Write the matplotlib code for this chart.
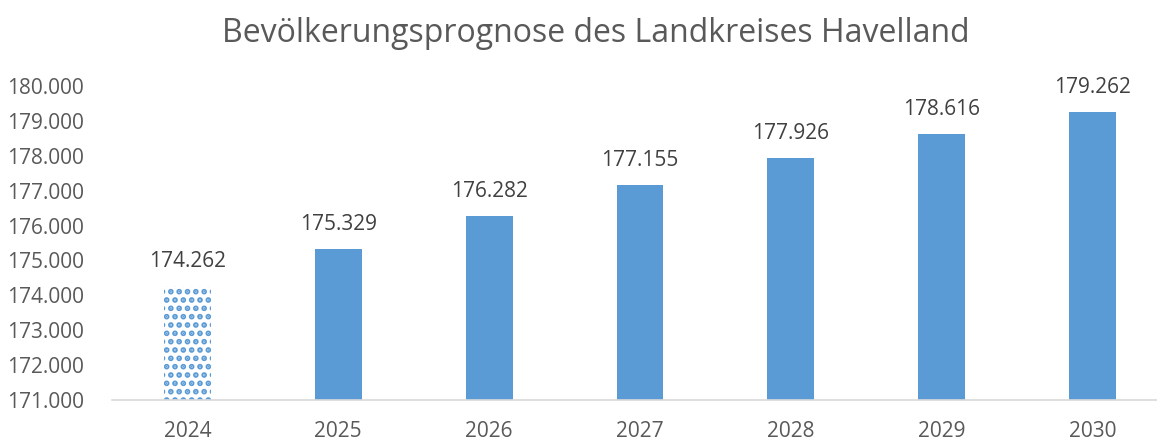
import matplotlib.pyplot as plt
from matplotlib.ticker import FuncFormatter

# Population forecast, Landkreis Havelland
years = ['2024', '2025', '2026', '2027', '2028', '2029', '2030']
population = [174262, 175329, 176282, 177155, 177926, 178616, 179262]

bar_color = '#5B9BD5'
text_color = '#595959'

plt.rcParams['font.family'] = ['Open Sans', 'DejaVu Sans']
plt.rcParams['hatch.color'] = bar_color
plt.rcParams['hatch.linewidth'] = 2.8


def de_thousands(v, pos=None):
    # German style: dot as thousands separator
    return f'{int(round(v)):,}'.replace(',', '.')


fig = plt.figure(figsize=(11.57, 4.42), dpi=100)
# the category axis runs a bit past the right edge in the original
ax = fig.add_axes([112 / 1157, 1 - 400 / 442, 1056 / 1157, 314 / 442])

x = list(range(len(years)))
bars = ax.bar(x, population, width=0.31, color=bar_color, zorder=2)

# first bar (actual value) drawn with a dotted pattern instead of a solid fill
bars[0].set_facecolor('white')
bars[0].set_edgecolor(bar_color)
bars[0].set_linewidth(0)
bars[0].set_hatch('..')

for xi, v in zip(x, population):
    ax.annotate(de_thousands(v), (xi, v), xytext=(0, 10), textcoords='offset points',
                ha='center', va='bottom', fontsize=15, color='#404040')

ax.set_xlim(-0.5, len(years) - 0.5)
ax.set_ylim(171000, 180000)
ax.set_yticks(range(171000, 180001, 1000))
ax.yaxis.set_major_formatter(FuncFormatter(de_thousands))
ax.set_xticks(x)
ax.set_xticklabels(years)

ax.tick_params(axis='both', length=0, labelsize=15, colors=text_color)
ax.tick_params(axis='y', pad=20)
ax.tick_params(axis='x', pad=15)

for side in ['top', 'right', 'left']:
    ax.spines[side].set_visible(False)
ax.spines['bottom'].set_color('#D9D9D9')
ax.spines['bottom'].set_linewidth(1.2)

fig.text(0.515, 0.925, 'Bevölkerungsprognose des Landkreises Havelland',
         ha='center', va='center', fontsize=23, color=text_color)

fig.savefig('out.png', dpi=100)
